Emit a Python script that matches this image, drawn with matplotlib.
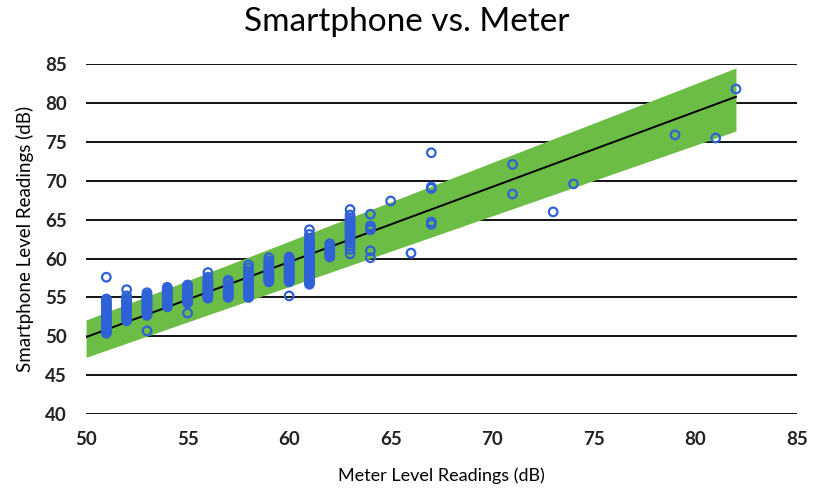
import matplotlib.pyplot as plt

# meter reading -> smartphone readings at that meter level
meter = (
    [51] * 24 + [52] * 17 + [53] * 16 + [54] * 14 + [55] * 14 + [56] * 15
    + [57] * 10 + [58] * 18 + [59] * 14 + [60] * 18 + [61] * 32 + [62] * 8
    + [63] * 19 + [64] * 6 + [65] + [66] + [67] * 5 + [71] * 2 + [73]
    + [74] + [79] + [81] + [82]
)
phone = [
    # 51
    50.4, 50.6, 50.8, 51.0, 51.1, 51.3, 51.5, 51.7, 51.9, 52.1, 52.3, 52.5,
    52.7, 52.9, 53.1, 53.3, 53.5, 53.7, 53.9, 54.1, 54.3, 54.5, 54.8, 57.6,
    # 52
    52.0, 52.2, 52.4, 52.6, 52.8, 53.0, 53.2, 53.4, 53.6, 53.8, 54.0, 54.2,
    54.4, 54.6, 54.8, 55.2, 56.0,
    # 53
    50.7, 52.7, 52.9, 53.1, 53.3, 53.5, 53.7, 53.9, 54.1, 54.3, 54.5, 54.7,
    54.9, 55.1, 55.3, 55.6,
    # 54
    53.8, 54.0, 54.2, 54.4, 54.6, 54.8, 55.0, 55.2, 55.4, 55.6, 55.8, 56.0,
    56.1, 56.3,
    # 55
    53.0, 54.3, 54.5, 54.7, 54.9, 55.1, 55.3, 55.5, 55.7, 55.9, 56.1, 56.3,
    56.4, 56.6,
    # 56
    54.9, 55.1, 55.3, 55.5, 55.7, 55.9, 56.1, 56.3, 56.5, 56.7, 56.9, 57.1,
    57.3, 57.6, 58.2,
    # 57
    55.0, 55.2, 55.4, 55.6, 55.8, 56.0, 56.3, 56.6, 56.9, 57.2,
    # 58
    55.0, 55.2, 55.4, 55.6, 55.8, 56.0, 56.2, 56.4, 56.6, 56.8, 57.0, 57.2,
    57.5, 57.8, 58.1, 58.4, 58.8, 59.2,
    # 59
    57.0, 57.2, 57.4, 57.6, 57.8, 58.0, 58.2, 58.4, 58.6, 58.8, 59.1, 59.4,
    59.7, 60.1,
    # 60
    55.2, 57.0, 57.2, 57.4, 57.6, 57.8, 58.0, 58.2, 58.4, 58.6, 58.8, 59.0,
    59.2, 59.4, 59.6, 59.8, 60.0, 60.2,
    # 61
    56.7, 56.9, 57.1, 57.3, 57.5, 57.7, 57.9, 58.1, 58.3, 58.5, 58.7, 58.9,
    59.1, 59.3, 59.5, 59.7, 59.9, 60.1, 60.3, 60.5, 60.7, 60.9, 61.1, 61.3,
    61.5, 61.7, 61.9, 62.1, 62.3, 62.6, 63.1, 63.7,
    # 62
    60.2, 60.4, 60.6, 60.8, 61.0, 61.3, 61.6, 61.9,
    # 63
    60.6, 61.2, 61.6, 62.0, 62.4, 62.7, 63.0, 63.3, 63.5, 63.7, 63.9, 64.1,
    64.3, 64.5, 64.7, 64.9, 65.2, 65.6, 66.3,
    # 64
    60.1, 61.0, 63.7, 63.9, 64.2, 65.7,
    # 65, 66
    67.4, 60.7,
    # 67
    64.4, 64.7, 69.0, 69.2, 73.6,
    # 71
    68.3, 72.1,
    # 73, 74, 79, 81, 82
    66.0, 69.6, 75.9, 75.5, 81.8,
]

# fitted line and its band
fit_x = [50, 82]
fit_y = [49.9, 80.8]
band_upper = [52.1, 84.5]
band_lower = [47.3, 76.4]

x_ticks = [50, 55, 60, 65, 70, 75, 80, 85]
y_ticks = [40, 45, 50, 55, 60, 65, 70, 75, 80, 85]

plt.rcParams['font.family'] = ['Lato', 'DejaVu Sans']

fig = plt.figure(figsize=(8.14, 4.93), dpi=100)
ax = fig.add_axes([0.1057, 0.160, 0.8733, 0.710])

for y in y_ticks:
    ax.axhline(y, color='black', linewidth=1.3, zorder=1)

ax.fill_between(fit_x, band_lower, band_upper, color='#6cbd45', linewidth=0, zorder=2)
ax.plot(fit_x, fit_y, color='black', linewidth=1.4, zorder=3)

ax.scatter(meter, phone, s=38, facecolors='none', edgecolors='#2f62d6',
           linewidths=1.6, zorder=4)

ax.set_xlim(50, 85)
ax.set_ylim(40, 85)
ax.set_xticks(x_ticks)
ax.set_yticks(y_ticks)
ax.tick_params(axis='both', length=0, labelsize=13.5, pad=12)
ax.tick_params(axis='y', pad=14)
for lbl in ax.get_xticklabels() + ax.get_yticklabels():
    lbl.set_fontweight('bold')
    lbl.set_color('#222222')
for side in ax.spines.values():
    side.set_visible(False)

ax.set_xlabel('Meter Level Readings (dB)', fontsize=13, labelpad=14)
ax.set_ylabel('Smartphone Level Readings (dB)', fontsize=13.5, labelpad=8)
fig.suptitle('Smartphone vs. Meter', fontsize=24, fontweight='normal',
             color='black', y=0.985)

fig.savefig('out.png', dpi=100)
